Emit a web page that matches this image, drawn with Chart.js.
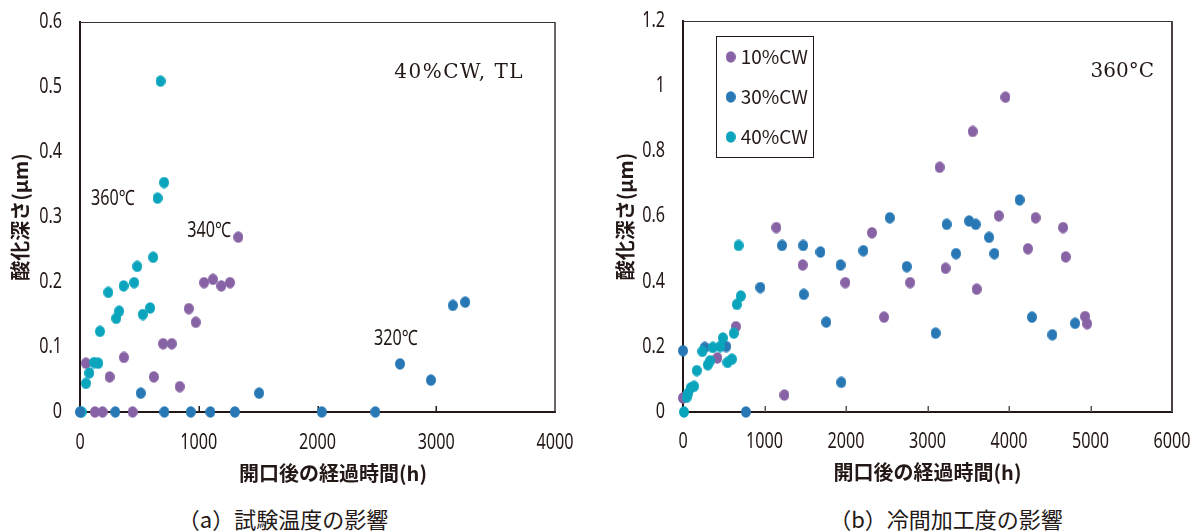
<!DOCTYPE html>
<html><head><meta charset="utf-8">
<script src="https://cdn.jsdelivr.net/npm/chart.js@4/dist/chart.umd.min.js"></script>
<style>
html,body{margin:0;padding:0;background:#fff;}
body{width:1192px;height:532px;position:relative;overflow:hidden;}
#ca{position:absolute;left:0;top:0;}
#cb{position:absolute;left:590px;top:0;}
.cap{position:absolute;top:504px;font-family:'Noto Sans CJK JP',sans-serif;font-size:22px;color:#231815;white-space:nowrap;transform:translateX(-50%);line-height:28px;}
</style></head><body>
<canvas id="ca" width="590" height="490"></canvas>
<canvas id="cb" width="602" height="490"></canvas>
<div class="cap" style="left:283px">（a）試験温度の影響</div>
<div class="cap" style="left:946px">（b）冷間加工度の影響</div>
<script>
// ---------- Data: chart (a) 40%CW, TL ----------
const a360_t = [14, 50, 78, 118, 154, 168, 238, 305, 330, 367, 456, 482, 529, 591, 616, 653, 678, 708];
const a360_d = [0, 0.044, 0.060, 0.076, 0.075, 0.124, 0.184, 0.144, 0.155, 0.194, 0.199, 0.224, 0.150, 0.160, 0.238, 0.329, 0.509, 0.353];
const a340_t = [50, 126, 190, 249, 370, 443, 622, 700, 773, 840, 916, 975, 1045, 1120, 1190, 1263, 1333];
const a340_d = [0.075, 0, 0, 0.054, 0.084, 0, 0.054, 0.105, 0.105, 0.039, 0.159, 0.138, 0.199, 0.204, 0.194, 0.199, 0.269];
const a320_t = [0, 297, 512, 711, 933, 1098, 1304, 1508, 2036, 2487, 2695, 2955, 3140, 3244];
const a320_d = [0, 0, 0.029, 0, 0, 0, 0, 0.029, 0, 0, 0.074, 0.049, 0.164, 0.169];

// ---------- Data: chart (b) 360°C ----------
const b10_t = [0, 422, 649, 1145, 1244, 1469, 1991, 2319, 2467, 2787, 3149, 3222, 3555, 3604, 3875, 3957, 4232, 4326, 4664, 4696, 4934, 4959];
const b10_d = [0.043, 0.166, 0.262, 0.566, 0.052, 0.451, 0.397, 0.550, 0.291, 0.397, 0.751, 0.441, 0.861, 0.377, 0.602, 0.966, 0.501, 0.596, 0.566, 0.476, 0.293, 0.271];
const b30_t = [0, 267, 530, 772, 948, 1215, 1474, 1482, 1687, 1757, 1933, 1942, 2213, 2537, 2746, 3099, 3235, 3350, 3510, 3592, 3756, 3821, 4130, 4282, 4532, 4811];
const b30_d = [0.188, 0.198, 0.201, 0, 0.382, 0.511, 0.511, 0.361, 0.491, 0.276, 0.451, 0.091, 0.495, 0.596, 0.446, 0.242, 0.576, 0.486, 0.586, 0.576, 0.536, 0.486, 0.651, 0.291, 0.237, 0.272];
const b40_t = [12, 45, 65, 95, 135, 169, 238, 304, 333, 366, 456, 489, 546, 600, 624, 661, 681, 710];
const b40_d = [0, 0.045, 0.058, 0.074, 0.079, 0.127, 0.186, 0.145, 0.157, 0.198, 0.201, 0.227, 0.152, 0.162, 0.242, 0.330, 0.511, 0.356];

// ---------- Labels ----------
const seriesA = ['360℃', '340℃', '320℃'];
const seriesB = ['10%CW', '30%CW', '40%CW'];
const xTitle = '開口後の経過時間(h)';
const yTitle = '酸化深さ(μm)';
const noteA = '40%CW, TL';
const noteB = '360°C';

// ---------- Styles ----------
const INK = '#231815';
const PURPLE = '#8763a5', BLUE = '#2878b5', CYAN = '#0aa5bd';
const NUM_FONT = "21px 'Noto Sans','Noto Sans CJK JP',sans-serif";
const NUM_SX = 0.77;
const JP_FAMILY = "'Noto Sans CJK JP',sans-serif";
const jpFont = {family: JP_FAMILY, size: 20, weight: 'bold'};

function dot(color) {
  const c = document.createElement('canvas');
  c.width = 10; c.height = 12;
  const g = c.getContext('2d');
  g.fillStyle = color;
  g.beginPath(); g.ellipse(5, 6, 5, 5.8, 0, 0, Math.PI * 2); g.fill();
  return c;
}
function pts(xs, ys) { return xs.map((x, i) => ({x: x, y: ys[i]})); }
function ds(label, xs, ys, color, order) {
  return {label: label, data: pts(xs, ys), pointStyle: dot(color), pointRadius: 5,
          backgroundColor: color, borderColor: color, borderWidth: 0, showLine: false,
          clip: false, order: order};
}
function fmt(v) { return String(parseFloat(Number(v).toFixed(4))); }
function drawScaled(ctx, text, x, y, align, sx, spacing) {
  ctx.save(); ctx.translate(x, y); ctx.scale(sx, 1); ctx.textAlign = align;
  if (spacing && 'letterSpacing' in ctx) ctx.letterSpacing = spacing;
  ctx.fillText(text, 0, 0); ctx.restore();
}

function framePlugin(o) {
  return {
    id: 'frame',
    beforeDatasetsDraw(chart) {
      const {ctx, chartArea: a} = chart;
      ctx.save();
      ctx.strokeStyle = o.topColor; ctx.lineWidth = 1;
      ctx.beginPath(); ctx.moveTo(a.left, a.top + 0.5); ctx.lineTo(a.right, a.top + 0.5); ctx.stroke();
      ctx.strokeStyle = o.rightColor; ctx.lineWidth = o.rightWidth;
      ctx.beginPath(); ctx.moveTo(a.right, a.top); ctx.lineTo(a.right, a.bottom); ctx.stroke();
      const xs = chart.scales.x;
      ctx.strokeStyle = o.tickColor; ctx.lineWidth = 1.5;
      xs.ticks.forEach((t, i) => {
        if (i === 0 || i === xs.ticks.length - 1) return;
        const px = Math.round(xs.getPixelForValue(t.value)) + 0.25;
        ctx.beginPath(); ctx.moveTo(px, a.bottom); ctx.lineTo(px, a.bottom - 6); ctx.stroke();
      });
      ctx.restore();
    }
  };
}

function tickTextPlugin(o) {
  return {
    id: 'tickText',
    afterDraw(chart) {
      const {ctx, chartArea: a} = chart;
      const xs = chart.scales.x, ys = chart.scales.y;
      ctx.save();
      ctx.fillStyle = INK; ctx.font = NUM_FONT; ctx.textBaseline = 'middle';
      ys.ticks.forEach(t => drawScaled(ctx, fmt(t.value), a.left - o.yGap, ys.getPixelForValue(t.value), 'right', NUM_SX));
      xs.ticks.forEach(t => drawScaled(ctx, fmt(t.value), xs.getPixelForValue(t.value), a.bottom + o.xOff, 'center', NUM_SX));
      ctx.restore();
    }
  };
}

function notesPlugin(items) {
  return {
    id: 'notes',
    afterDraw(chart) {
      const {ctx, chartArea: a} = chart;
      items.forEach(it => {
        ctx.save();
        ctx.font = it.font; ctx.fillStyle = INK; ctx.textBaseline = 'middle';
        let x, y;
        if (it.at) {
          x = chart.scales.x.getPixelForValue(it.at[0]);
          y = chart.scales.y.getPixelForValue(it.at[1]);
        } else {
          x = (it.fromRight !== undefined) ? a.right - it.fromRight : (a.left + a.right) / 2 + (it.dx || 0);
          y = (it.fromTop !== undefined) ? a.top + it.fromTop : it.py;
        }
        drawScaled(ctx, it.text, x, y, it.align || 'center', it.sx || 1, it.spacing);
        ctx.restore();
      });
    }
  };
}

function legendPlugin(o) {
  return {
    id: 'boxLegend',
    afterDraw(chart) {
      const {ctx, chartArea: a} = chart;
      const x0 = a.left + o.left, y0 = a.top + o.top;
      ctx.save();
      ctx.strokeStyle = INK; ctx.lineWidth = 1;
      ctx.strokeRect(x0 + 0.5, y0 + 0.5, o.width, o.height);
      ctx.font = o.font; ctx.textBaseline = 'middle'; ctx.textAlign = 'left'; ctx.fillStyle = INK;
      chart.data.datasets.forEach((d, i) => {
        const cy = y0 + o.firstRow + i * o.rowGap;
        ctx.drawImage(d.pointStyle, x0 + o.dotX - 5, cy - 6);
        ctx.fillText(d.label, x0 + o.textX, cy);
      });
      ctx.restore();
    }
  };
}

Chart.defaults.font.family = JP_FAMILY;
Chart.defaults.color = INK;

function axes(xMax, xStep, yMax, yStep, yW, yTitlePad, showXTitle) {
  return {
    x: {
      type: 'linear', min: 0, max: xMax,
      ticks: {stepSize: xStep, display: false},
      grid: {display: false, drawTicks: false},
      border: {display: true, color: INK, width: 2},
      title: {display: showXTitle, text: xTitle, font: jpFont, color: INK, padding: {top: 0, bottom: 6}},
      afterFit(s) { s.height = 78; }
    },
    y: {
      type: 'linear', min: 0, max: yMax,
      ticks: {stepSize: yStep, display: false},
      grid: {display: false, drawTicks: false},
      border: {display: true, color: INK, width: 2},
      title: {display: true, text: yTitle, font: jpFont, color: INK, padding: {top: yTitlePad, bottom: 0}},
      afterFit(s) { s.width = yW; }
    }
  };
}

new Chart(document.getElementById('ca'), {
  type: 'scatter',
  data: {datasets: [
    ds(seriesA[0], a360_t, a360_d, CYAN, 1),
    ds(seriesA[1], a340_t, a340_d, PURPLE, 2),
    ds(seriesA[2], a320_t, a320_d, BLUE, 0)
  ]},
  options: {
    responsive: false, animation: false, events: [],
    layout: {padding: {left: 0, right: 35, top: 22, bottom: 0}},
    scales: axes(4000, 1000, 0.6, 0.1, 80, 8, false),
    plugins: {legend: {display: false}, tooltip: {enabled: false}}
  },
  plugins: [
    framePlugin({topColor: '#3a3232', rightColor: '#3a3232', rightWidth: 1.5, tickColor: INK}),
    tickTextPlugin({yGap: 18, xOff: 31}),
    notesPlugin([
      {text: seriesA[0], at: [277, 0.327], font: NUM_FONT, sx: NUM_SX},
      {text: seriesA[1], at: [1088, 0.279], font: NUM_FONT, sx: NUM_SX},
      {text: seriesA[2], at: [2660, 0.112], font: NUM_FONT, sx: NUM_SX},
      {text: noteA, fromRight: 31, fromTop: 51, align: 'right', font: "20px 'DejaVu Serif',serif", spacing: '1.5px'},
      {text: xTitle, dx: 15.5, py: 473, font: "bold 20px " + JP_FAMILY}
    ])
  ]
});

new Chart(document.getElementById('cb'), {
  type: 'scatter',
  data: {datasets: [
    ds(seriesB[0], b10_t, b10_d, PURPLE, 2),
    ds(seriesB[1], b30_t, b30_d, BLUE, 1),
    ds(seriesB[2], b40_t, b40_d, CYAN, 0)
  ]},
  options: {
    responsive: false, animation: false, events: [],
    layout: {padding: {left: 0, right: 20, top: 21, bottom: 0}},
    scales: axes(6000, 1000, 1.2, 0.2, 93, 23, true),
    plugins: {legend: {display: false}, tooltip: {enabled: false}}
  },
  plugins: [
    framePlugin({topColor: '#3a3232', rightColor: '#4a4242', rightWidth: 2, tickColor: '#555'}),
    tickTextPlugin({yGap: 18, xOff: 29.7}),
    notesPlugin([
      {text: noteB, fromRight: 18, fromTop: 51, align: 'right', font: "20px 'DejaVu Serif',serif"}
    ]),
    legendPlugin({left: 33, top: 15, width: 97, height: 121, dotX: 14.7, textX: 24.7,
                  firstRow: 21, rowGap: 40, font: "19px " + JP_FAMILY})
  ]
});
</script>
</body></html>
